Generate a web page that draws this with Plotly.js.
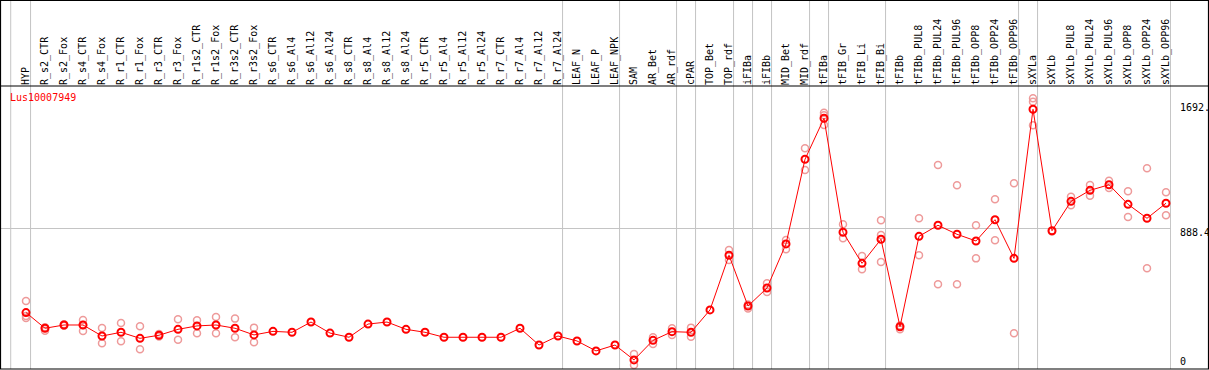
<!DOCTYPE html>
<html><head><meta charset="utf-8">
<script src="https://cdn.plot.ly/plotly-3.0.1.min.js"></script>
<style>html,body{margin:0;padding:0;background:#fff;}#chart{width:1209px;height:370px;}</style>
</head><body><div id="chart"></div>
<script>
const geneId = 'Lus10007949';
const categories = ['HYP','R_s2_CTR','R_s2_Fox','R_s4_CTR','R_s4_Fox','R_r1_CTR','R_r1_Fox','R_r3_CTR','R_r3_Fox',
  'R_r1s2_CTR','R_r1s2_Fox','R_r3s2_CTR','R_r3s2_Fox','R_s6_CTR','R_s6_Al4','R_s6_Al12','R_s6_Al24',
  'R_s8_CTR','R_s8_Al4','R_s8_Al12','R_s8_Al24','R_r5_CTR','R_r5_Al4','R_r5_Al12','R_r5_Al24',
  'R_r7_CTR','R_r7_Al4','R_r7_Al12','R_r7_Al24','LEAF_N','LEAF_P','LEAF_NPK','SAM','AR_Bet','AR_rdf',
  'cPAR','TOP_Bet','TOP_rdf','iFIBa','iFIBb','MID_Bet','MID_rdf','tFIBa','tFIB_Gr','tFIB_Li','tFIB_Bi',
  'tFIBb','tFIBb_PUL8','tFIBb_PUL24','tFIBb_PUL96','tFIBb_OPP8','tFIBb_OPP24','tFIBb_OPP96',
  'sXYLa','sXYLb','sXYLb_PUL8','sXYLb_PUL24','sXYLb_PUL96','sXYLb_OPP8','sXYLb_OPP24','sXYLb_OPP96'];
const means = [346,245,266,266,195,219,180,200,238,
  260,266,245,202,225,219,285,214,
  187,272,285,238,219,187,187,187,
  187,245,137,195,163,99,137,41,167,223,
  219,363,715,388,504,788,1333,1597,863,663,818,
  255,837,908,850,807,944,695,
  1655,873,1062,1133,1169,1043,953,1050];
const rep1 = [420,251,270,298,247,279,258,208,303,
  296,317,307,249,null,null,null,null,
  null,null,null,null,null,null,null,null,
  null,null,null,null,null,null,null,79,187,245,
  249,null,749,398,534,813,1404,1633,914,710,940,
  263,953,1296,1166,908,1075,1178,
  1726,868,1092,1167,1195,1127,1275,1120];
const rep2 = [324,229,261,227,148,161,110,192,171,
  213,213,187,155,null,null,null,null,
  null,null,null,null,null,null,null,null,
  null,null,null,null,null,null,null,8,144,202,
  191,null,685,372,478,753,1264,1616,824,625,845,
  238,715,528,528,695,811,213,
  1704,null,1037,1099,1148,961,631,972];
const rep3 = [311,247,null,266,null,null,null,null,null,
  null,null,null,null,null,null,null,null,
  null,null,null,null,null,null,null,null,
  null,null,null,null,null,null,null,null,null,null,
  null,null,null,null,null,null,null,1554,null,null,672,
  null,null,null,null,null,null,null,
  1552,null,null,null,null,null,null,null];
const groupBreaks = [-1.045,0,28,31,34,35,37,38,39,41,42,45,52,53,60];
const yTickVals = [0,888.4,1692];
const yTickText = ['0','888.4','1692.'];
const gridVals = [888.4];

const W=1209,H=370,L=1,R=38,T=86,B=1;
const pw=W-L-R, ph=H-T-B;
const pxX = p => (p-L)/pw;
const pxY = p => (H-B-p)/ph;
const MONO = 'DejaVu Sans Mono, monospace';
const idx = categories.map((_,i)=>i);

const shapes = [];
groupBreaks.forEach(b=>{
  shapes.push({type:'line',xref:'x',yref:'paper',x0:b+0.24,x1:b+0.24,y0:0,y1:pxY(0),
    line:{color:'#c4c4c4',width:1},layer:'below'});
});
shapes.push({type:'rect',xref:'paper',yref:'paper',x0:pxX(0.5),x1:pxX(1208.5),y0:pxY(369),y1:pxY(0.5),
  line:{color:'#000',width:1.2},layer:'above'});
shapes.push({type:'line',xref:'paper',yref:'paper',x0:pxX(0),x1:pxX(1209),y0:1,y1:1,
  line:{color:'#000',width:1.2},layer:'above'});

const annotations = yTickVals.map((v,k)=>({
  xref:'paper',yref:'y',x:pxX(1178),y:v,xanchor:'left',yanchor:'middle',
  yshift: v===0 ? 4.6 : -3.8, text:yTickText[k], showarrow:false,
  font:{family:MONO,size:10,color:'#000'}
}));

const REP = '#ee9a9a';
const traces = [
  {x:[...idx,...idx,...idx], y:[...rep1,...rep2,...rep3], type:'scatter', mode:'markers',
   marker:{symbol:'circle-open',size:7,color:REP,line:{width:1.5,color:REP}}, cliponaxis:false,
   hoverinfo:'skip'},
  {x:idx, y:means, type:'scatter', mode:'lines+markers',
   line:{color:'#ff0000',width:1},
   marker:{symbol:'circle-open',size:7,color:'#ff0000',line:{width:2,color:'#ff0000'}}, cliponaxis:false}
];

const layout = {
  width:W,height:H,margin:{l:L,r:R,t:T,b:B,pad:0},
  paper_bgcolor:'#fff',plot_bgcolor:'#fff',showlegend:false,
  title:{text:geneId,font:{family:MONO,size:10,color:'#ff0000'},
    xref:'container',yref:'container',x:10/W,xanchor:'left',y:1-97.5/H,yanchor:'middle'},
  xaxis:{type:'linear',range:[(L-26)/19,(W-R-26)/19],side:'top',tickmode:'array',
    tickvals:idx,ticktext:categories,tickangle:-90,ticks:'',showgrid:false,zeroline:false,
    showline:false,tickfont:{family:MONO,size:10,color:'#000'},fixedrange:true},
  yaxis:{range:[-17.4,1804.9],tickmode:'array',tickvals:gridVals,showticklabels:false,ticks:'',
    showgrid:true,gridcolor:'#c4c4c4',gridwidth:1,zeroline:false,showline:false,fixedrange:true},
  shapes:shapes, annotations:annotations
};
Plotly.newPlot('chart',traces,layout,{staticPlot:true,displayModeBar:false});
</script></body></html>
